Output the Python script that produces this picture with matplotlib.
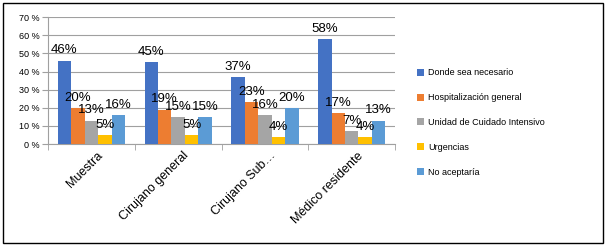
import numpy as np
import matplotlib
matplotlib.use('Agg')
import matplotlib.pyplot as plt
import matplotlib.transforms as mtransforms
from matplotlib.patches import Rectangle

plt.rcParams['font.family'] = ['Liberation Sans', 'DejaVu Sans']

categorias = ['Muestra', 'Cirujano general', 'Cirujano Sub…', 'Médico residente']
series = ['Donde sea necesario', 'Hospitalización general',
          'Unidad de Cuidado Intensivo', 'Urgencias', 'No aceptaría']
donde_sea = [46, 45, 37, 58]
hospitalizacion = [20, 19, 23, 17]
uci = [13, 15, 16, 7]
urgencias = [5, 5, 4, 4]
no_aceptaria = [16, 15, 20, 13]
colores = ['#4472C4', '#ED7D31', '#A5A5A5', '#FFC000', '#5B9BD5']

valores = [donde_sea, hospitalizacion, uci, urgencias, no_aceptaria]

fig = plt.figure(figsize=(6.07, 2.48), dpi=100)
ax = fig.add_axes([0.079, 0.419, 0.572, 0.512])

x = np.arange(len(categorias))
ancho = 0.155
for i, (vals, nombre, c) in enumerate(zip(valores, series, colores)):
    pos = x + (i - 2) * ancho
    barras = ax.bar(pos, vals, ancho, color=c, label=nombre, zorder=3)
    for b, v in zip(barras, vals):
        ax.annotate(f'{v}%', (b.get_x() + b.get_width() / 2, v),
                    xytext=(0, 3), textcoords='offset points',
                    ha='center', va='bottom', fontsize=9.5, zorder=4)

ax.set_xlim(-0.5, len(categorias) - 0.5)
ax.set_ylim(0, 70)
ax.set_yticks(range(0, 71, 10))
ax.set_yticklabels([f'{v} %' for v in range(0, 71, 10)], fontsize=6.5)
ax.yaxis.grid(True, color='#A0A0A0', linewidth=0.8, zorder=0)
ax.tick_params(axis='y', length=4, color='#A0A0A0', pad=2)

ax.set_xticks(x)
ax.set_xticklabels(categorias, rotation=45, ha='right', rotation_mode='anchor', fontsize=9)
ax.tick_params(axis='x', length=0, pad=4)
desplazar = mtransforms.ScaledTranslation(5 / 100, 0, fig.dpi_scale_trans)
for etiqueta in ax.get_xticklabels():
    etiqueta.set_transform(etiqueta.get_transform() + desplazar)
ax.set_xticks(np.arange(-0.5, len(categorias), 1), minor=True)
ax.tick_params(axis='x', which='minor', length=4, color='#A0A0A0')

for s in ['top', 'right']:
    ax.spines[s].set_visible(False)
for s in ['left', 'bottom']:
    ax.spines[s].set_color('#A0A0A0')
    ax.spines[s].set_linewidth(0.8)

ax.legend(loc='center left', bbox_to_anchor=(1.04, 0.17), frameon=False,
          fontsize=6.5, handlelength=0.8, handleheight=0.8, handletextpad=0.4,
          labelspacing=1.75)

fig.patches.append(Rectangle((3 / 607, 5 / 248), 600 / 607, 240 / 248,
                             transform=fig.transFigure, fill=False,
                             edgecolor='black', linewidth=1))

fig.savefig('out.png', dpi=100)
